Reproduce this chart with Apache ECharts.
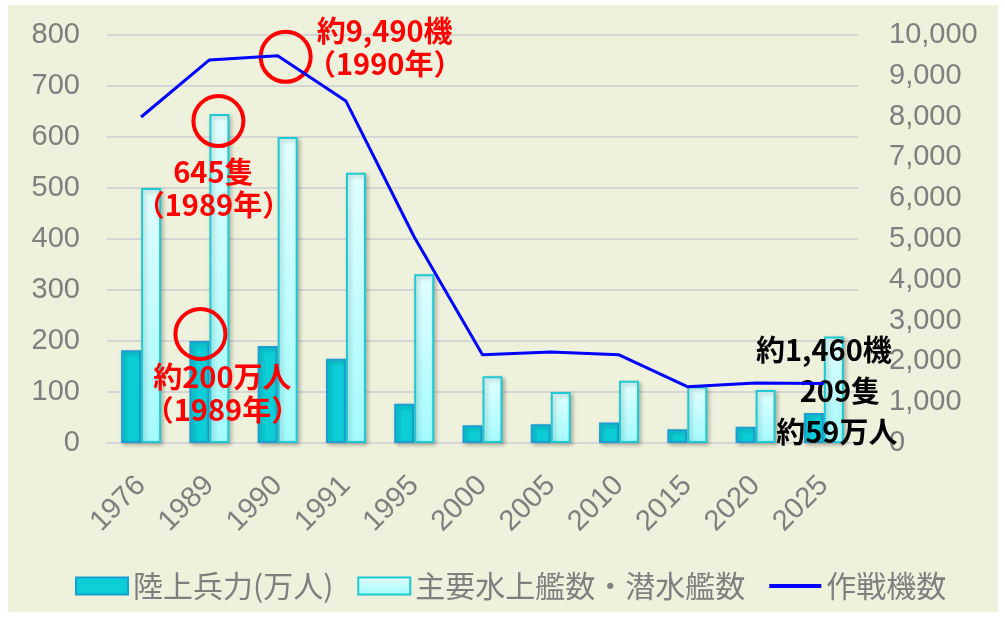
<!DOCTYPE html>
<html>
<head>
<meta charset="utf-8">
<script src="https://cdn.jsdelivr.net/npm/echarts@6/dist/echarts.min.js"></script>
<style>
  html, body { margin: 0; padding: 0; background: #fff; }
  #bg { position: absolute; left: 8px; top: 5px; width: 990px; height: 607px; background: #eef1db; }
  #main { position: absolute; left: 0; top: 0; width: 1005px; height: 618px; }
</style>
</head>
<body>
<div id="bg"></div>
<div id="main"></div>
<script>
  // 年
  const years = ['1976', '1989', '1990', '1991', '1995', '2000', '2005', '2010', '2015', '2020', '2025']
  // 陸上兵力（万人）
  const army = [182, 200, 190, 165, 77, 35, 37, 40, 27, 32, 59]
  // 主要水上艦数・潜水艦数
  const ships = [500, 645, 600, 530, 331, 131, 100, 122, 111, 104, 209]
  // 作戦機数
  const planes = [7990, 9390, 9490, 8380, 5050, 2160, 2230, 2160, 1380, 1470, 1460]

  const leftTicks = { min: 0, max: 800, interval: 100 }
  const rightTicks = { min: 0, max: 10000, interval: 1000 }

  const gray = '#7f7f7f'
  const jp = '"Noto Sans CJK JP", sans-serif'
  const ring = { color: 'rgba(0,0,0,0)', borderColor: '#ff0000', borderWidth: 4 }
  const redText = { color: '#ff0000', fontSize: 29, fontWeight: 'bold', fontFamily: jp, lineHeight: 33 }
  const blackText = { color: '#000', fontSize: 29, fontWeight: 'bold', fontFamily: jp }

  const myChart = echarts.init(document.getElementById('main'))
  const options = {
    animation: false,
    textStyle: { fontFamily: '"Liberation Sans", Arial, sans-serif' },
    grid: { left: 107, right: 147, top: 35, bottom: 175 },
    legend: {
      left: 70,
      top: 566,
      itemWidth: 52,
      itemHeight: 17,
      itemGap: 24,
      textStyle: { color: gray, fontSize: 30, fontFamily: jp },
      data: [
        { name: '陸上兵力(万人)', icon: 'rect' },
        { name: '主要水上艦数・潜水艦数', icon: 'rect' },
        { name: '作戦機数', icon: 'path://M0,0 H53 V4 H0 Z' }
      ]
    },
    xAxis: {
      type: 'category',
      data: years,
      axisLine: { lineStyle: { color: '#d6d6d6', width: 2 } },
      axisTick: { show: false },
      axisLabel: { color: gray, fontSize: 29, rotate: 45, margin: 38 }
    },
    yAxis: [{
      type: 'value',
      min: leftTicks.min, max: leftTicks.max, interval: leftTicks.interval,
      axisLine: { show: false },
      axisTick: { show: false },
      axisLabel: { color: gray, fontSize: 29, margin: 27 },
      splitLine: { lineStyle: { color: '#d6d6d6', width: 2 } }
    }, {
      type: 'value',
      min: rightTicks.min, max: rightTicks.max, interval: rightTicks.interval,
      axisLine: { show: false },
      axisTick: { show: false },
      splitLine: { show: false },
      axisLabel: {
        color: gray, fontSize: 29, margin: 31,
        formatter: v => v.toLocaleString('en-US')
      }
    }],
    series: [{
      name: '陸上兵力(万人)',
      type: 'bar',
      data: army,
      barWidth: 20,
      barGap: '0%',
      itemStyle: {
        color: '#0bced7', borderColor: '#1b9fd2', borderWidth: 2,
        shadowBlur: 4, shadowOffsetX: 2, shadowOffsetY: 2, shadowColor: 'rgba(0,0,0,0.25)'
      },
      markPoint: {
        silent: true,
        data: [{
          coord: ['1989', 200], symbol: 'circle', symbolSize: 50, symbolOffset: [1, -7],
          itemStyle: ring,
          label: Object.assign({ show: true, formatter: '約200万人\n（1989年）', offset: [22, 59] }, redText)
        }, {
          coord: ['2025', 59], symbol: 'circle', symbolSize: 0,
          itemStyle: { color: 'rgba(0,0,0,0)' },
          label: Object.assign({ show: true, formatter: '約59万人', offset: [23, 19] }, blackText)
        }]
      }
    }, {
      name: '主要水上艦数・潜水艦数',
      type: 'bar',
      data: ships,
      barWidth: 20,
      itemStyle: {
        color: new echarts.graphic.LinearGradient(0, 0, 0, 1, [
          { offset: 0, color: '#e2ffff' }, { offset: 1, color: '#a3fbfd' }
        ]),
        borderColor: '#1ec9d2', borderWidth: 2,
        shadowBlur: 4, shadowOffsetX: 2, shadowOffsetY: 2, shadowColor: 'rgba(0,0,0,0.25)'
      },
      markPoint: {
        silent: true,
        data: [{
          coord: ['1989', 645], symbol: 'circle', symbolSize: 50, symbolOffset: [-1, 7],
          itemStyle: ring,
          label: Object.assign({ show: true, formatter: '645隻\n（1989年）', offset: [-5, 67] }, redText)
        }, {
          coord: ['2025', 209], symbol: 'circle', symbolSize: 0,
          itemStyle: { color: 'rgba(0,0,0,0)' },
          label: Object.assign({ show: true, formatter: '209隻', offset: [6, 55] }, blackText)
        }]
      }
    }, {
      name: '作戦機数',
      type: 'line',
      yAxisIndex: 1,
      data: planes,
      symbol: 'none',
      lineStyle: { color: '#0000ff', width: 3 },
      itemStyle: { color: '#0000ff' },
      z: 5,
      markPoint: {
        silent: true,
        data: [{
          coord: ['1990', 9490], symbol: 'circle', symbolSize: 50, symbolOffset: [8, 1],
          itemStyle: ring,
          label: Object.assign({ show: true, formatter: '約9,490機\n（1990年）', offset: [99, -9] }, redText)
        }, {
          coord: ['2025', 1460], symbol: 'circle', symbolSize: 0,
          itemStyle: { color: 'rgba(0,0,0,0)' },
          label: Object.assign({ show: true, formatter: '約1,460機', offset: [0, -33] }, blackText)
        }]
      }
    }]
  }
  myChart.setOption(options)
  window.addEventListener('resize', myChart.resize)
</script>
</body>
</html>
